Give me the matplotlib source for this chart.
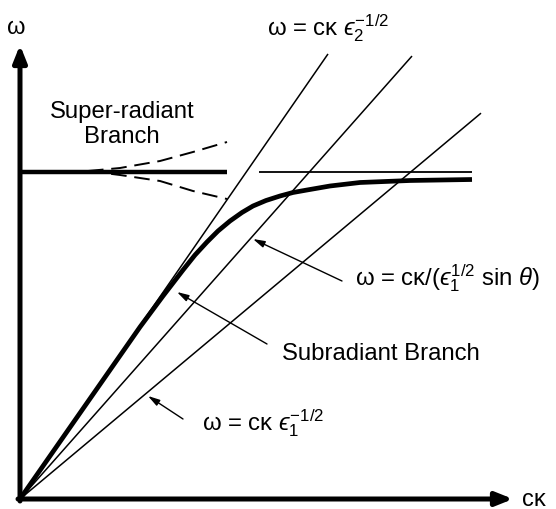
import matplotlib
matplotlib.use('Agg')
import matplotlib.pyplot as plt

plt.rcParams['font.family'] = ['Liberation Sans', 'DejaVu Sans']
plt.rcParams['mathtext.fontset'] = 'custom'
plt.rcParams['mathtext.rm'] = 'Liberation Sans'
plt.rcParams['mathtext.it'] = 'Liberation Sans:italic'
plt.rcParams['mathtext.fallback'] = 'stixsans'

# frequency of the transverse resonance (flat branches)
omega_0 = 327

# light lines through the origin: omega = slope * c kappa
light_slopes = [1.445, 1.13, 0.837]   # eps2^-1/2, 1/(eps1^1/2 sin theta), eps1^-1/2
light_ends = [308, 392, 461]

# subradiant branch (heavy curve)
sub_ck = [0, 60, 120, 143, 163, 175, 187, 198, 210, 222, 233, 246, 260, 273,
          287, 310, 340, 390, 452]
sub_w = [0, 86, 172, 203, 229, 244, 257, 268, 278, 286.5, 293, 298.5, 303, 306.5,
         309, 313, 316.5, 318.5, 319.5]

# super-radiant branch splitting (dashed)
dash_ck = [68, 100, 140, 173, 207]
dash_up = [328, 331, 338, 347, 357]
dash_lo = [328, 324, 318, 308, 300]

fig = plt.figure(figsize=(5.56, 5.10), dpi=100)
ax = fig.add_axes([0, 0, 1, 1])
ax.set_xlim(-20, 536)
ax.set_ylim(-10, 500)
ax.axis('off')

# axes with arrow heads
ax.annotate('', xy=(0, 454), xytext=(0, -2),
            arrowprops=dict(arrowstyle='-|>,head_length=1.0,head_width=0.4',
                            lw=3.6, color='black', shrinkA=0, shrinkB=0))
ax.annotate('', xy=(493, 0), xytext=(-2, 0),
            arrowprops=dict(arrowstyle='-|>,head_length=1.0,head_width=0.4',
                            lw=3.6, color='black', shrinkA=0, shrinkB=0))
ax.text(-4, 472, 'ω', fontsize=17, ha='center', va='center')
ax.text(502, 0, 'cκ', fontsize=17, ha='left', va='center')

for s, e in zip(light_slopes, light_ends):
    ax.plot([0, e], [0, s * e], color='black', lw=1.1, solid_capstyle='butt')

ax.plot([0, 207], [omega_0, omega_0], color='black', lw=3.2, solid_capstyle='butt')
ax.plot([239, 452], [omega_0, omega_0], color='black', lw=1.3, solid_capstyle='butt')
ax.plot(sub_ck, sub_w, color='black', lw=3.4, solid_joinstyle='round', solid_capstyle='butt')
ax.plot(dash_ck, dash_up, color='black', lw=1.4, dashes=(8, 4))
ax.plot(dash_ck, dash_lo, color='black', lw=1.4, dashes=(8, 4))

fs = 17.2
ax.text(102, 382, 'Super-radiant', fontsize=fs, ha='center', va='baseline')
ax.text(102, 357, 'Branch', fontsize=fs, ha='center', va='baseline')
ax.text(247, 465, 'ω = cκ $\u03f5_{2}^{-1/2}$',
        fontsize=fs, ha='left', va='baseline')
ax.text(335, 215, 'ω = cκ/($\u03f5_{1}^{1/2}$ sin $\\theta$)',
        fontsize=fs, ha='left', va='baseline')
ax.text(262, 140, 'Subradiant Branch', fontsize=fs, ha='left', va='baseline')
ax.text(182, 70, 'ω = cκ $\u03f5_{1}^{-1/2}$',
        fontsize=fs, ha='left', va='baseline')

arrow = dict(arrowstyle='-|>,head_length=0.7,head_width=0.2', lw=1.0,
             color='black', shrinkA=0, shrinkB=0)
ax.annotate('', xy=(233, 260), xytext=(322, 218), arrowprops=arrow)
ax.annotate('', xy=(157, 207), xytext=(247, 155), arrowprops=arrow)
ax.annotate('', xy=(128, 103), xytext=(163, 80), arrowprops=arrow)

fig.savefig('out.png', dpi=100)
